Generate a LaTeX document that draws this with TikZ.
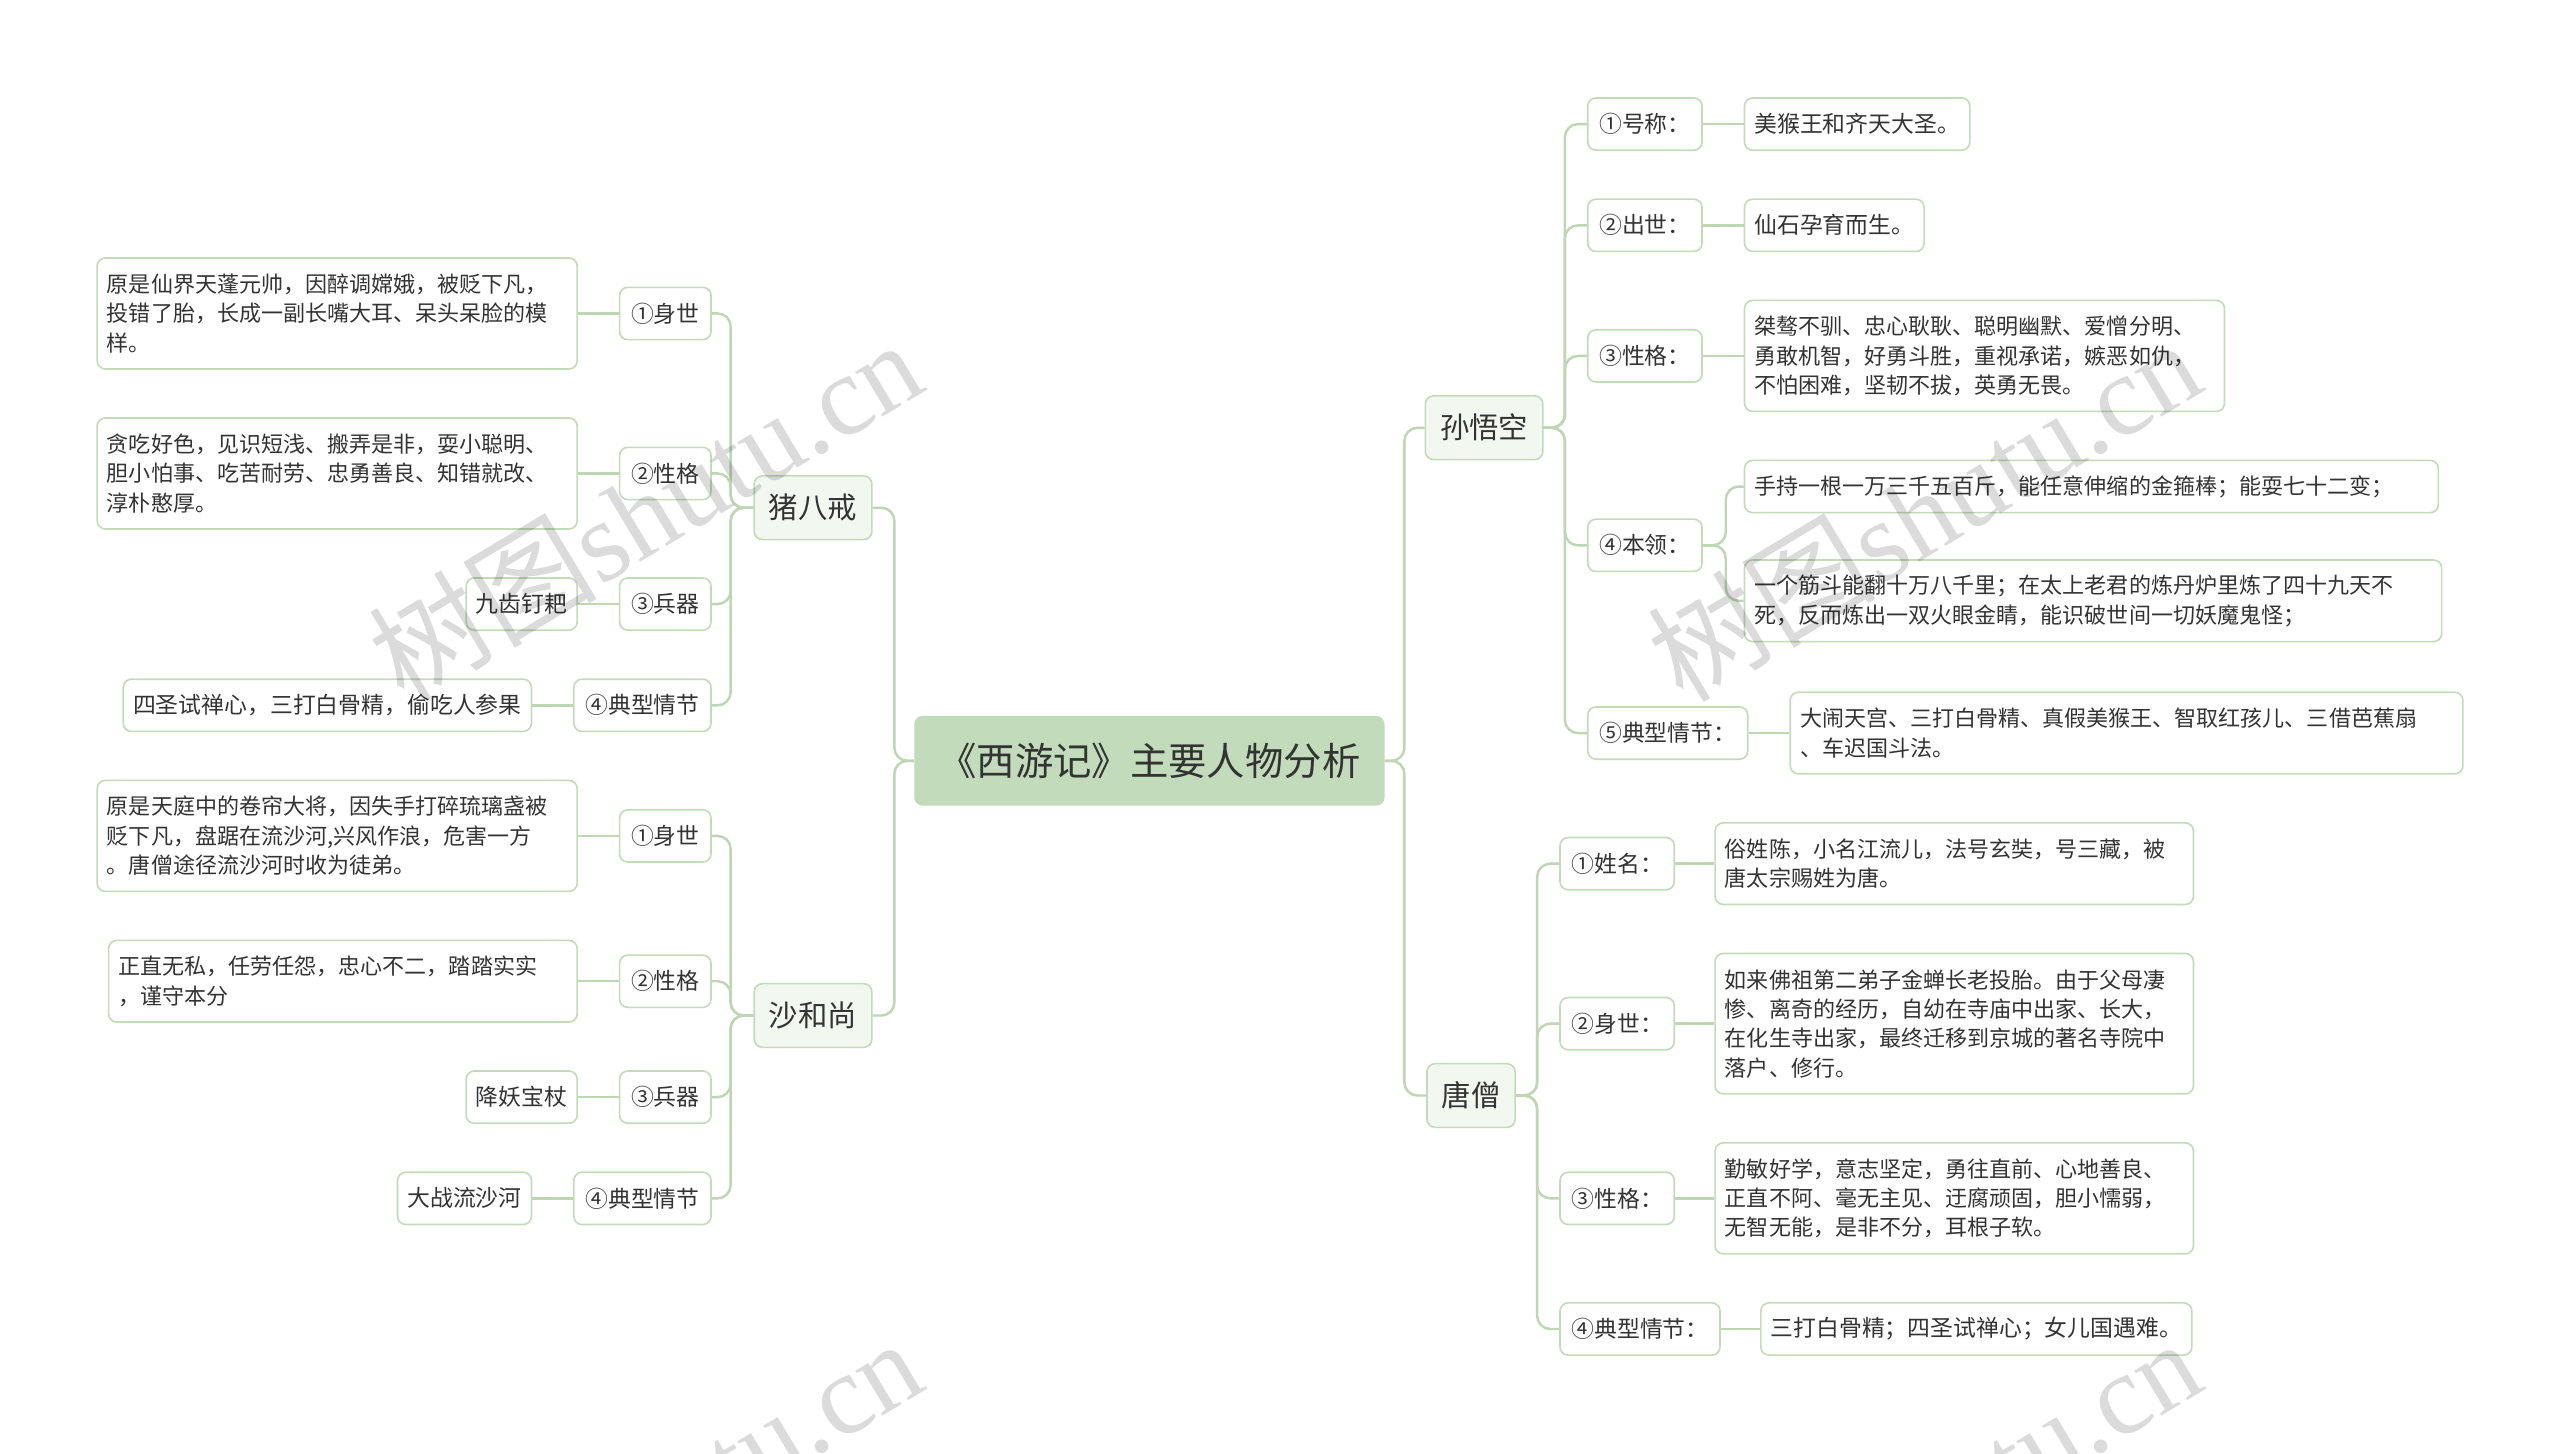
\documentclass[tikz,border=0pt]{standalone}
\usepackage{fontspec}
\setmainfont{Noto Sans CJK SC}
\newfontfamily\wmlatin{Liberation Serif}
\definecolor{lineC}{HTML}{BCD7B1}
\definecolor{rootF}{HTML}{C2DBBA}
\definecolor{mainF}{HTML}{F2F8EF}
\definecolor{borderC}{HTML}{C3DCB8}
\definecolor{txt}{HTML}{333333}
\begin{document}
\begin{tikzpicture}[x=1pt,y=-1pt,
  root/.style={fill=rootF, rounded corners=5pt, minimum width=288pt, minimum height=55pt, inner sep=0pt, font=\fontsize{23.5}{28}\selectfont, text=txt},
  lvlone/.style={fill=mainF, draw=borderC, line width=1pt, rounded corners=5pt, minimum height=39pt, inner xsep=9pt, inner ysep=0pt, font=\fontsize{18}{22}\selectfont, text=txt},
  lvltwo/.style={fill=white, draw=borderC, line width=1pt, rounded corners=5pt, minimum height=32pt, inner xsep=7pt, inner ysep=0pt, font=\fontsize{14}{18}\selectfont, text=txt},
  leaf/.style={fill=white, draw=borderC, line width=1pt, rounded corners=5pt, inner xsep=6pt, inner ysep=3pt, align=left, font=\fontsize{13.5}{18}\selectfont, text=txt},
  one/.style={minimum height=32pt, font=\fontsize{14}{18}\selectfont},
  two/.style={minimum height=50pt},
  three/.style={minimum height=68pt},
  four/.style={minimum height=86pt},
  conn/.style={draw=lineC, line width=1.5pt, rounded corners=8pt},
  wm/.style={rotate=31, text=black, opacity=0.14, font=\fontsize{70}{70}\selectfont, inner sep=0pt},
]
\useasboundingbox (0,0) rectangle (1568,890);
\fill[white] (0,0) rectangle (1568,890);

% root
\node[root] (root) at (704,466) {《西游记》主要人物分析};

% level one
\node[lvlone] (zhu) at (498,311) {猪八戒};
\node[lvlone] (sha) at (498,622) {沙和尚};
\node[lvlone] (sun) at (909,262) {孙悟空};
\node[lvlone] (tang) at (901,671) {唐僧};

% Zhu labels
\node[lvltwo, anchor=east] (zs1) at (436,192) {①身世};
\node[lvltwo, anchor=east] (zs2) at (436,290) {②性格};
\node[lvltwo, anchor=east] (zs3) at (436,370) {③兵器};
\node[lvltwo, anchor=east] (zs4) at (436,432) {④典型情节};
% Zhu leaves
\node[leaf, three, text width=282pt, anchor=east] (zl1) at (354,192) {原是仙界天蓬元帅，因醉调嫦娥，被贬下凡，\\投错了胎，长成一副长嘴大耳、呆头呆脸的模\\样。};
\node[leaf, three, text width=282pt, anchor=east] (zl2) at (354,290) {贪吃好色，见识短浅、搬弄是非，耍小聪明、\\胆小怕事、吃苦耐劳、忠勇善良、知错就改、\\淳朴憨厚。};
\node[leaf, one, anchor=east] (zl3) at (354,370) {九齿钉耙};
\node[leaf, one, anchor=east] (zl4) at (326,432) {四圣试禅心，三打白骨精，偷吃人参果};

% Sha labels
\node[lvltwo, anchor=east] (ss1) at (436,512) {①身世};
\node[lvltwo, anchor=east] (ss2) at (436,601) {②性格};
\node[lvltwo, anchor=east] (ss3) at (436,672) {③兵器};
\node[lvltwo, anchor=east] (ss4) at (436,734) {④典型情节};
% Sha leaves
\node[leaf, three, text width=282pt, anchor=east] (sl1) at (354,512) {原是天庭中的卷帘大将，因失手打碎琉璃盏被\\贬下凡，盘踞在流沙河,兴风作浪，危害一方\\。唐僧途径流沙河时收为徒弟。};
\node[leaf, two, text width=275pt, anchor=east] (sl2) at (354,601) {正直无私，任劳任怨，忠心不二，踏踏实实\\，谨守本分};
\node[leaf, one, anchor=east] (sl3) at (354,672) {降妖宝杖};
\node[leaf, one, anchor=east] (sl4) at (326,734) {大战流沙河};

% Sun labels
\node[lvltwo, anchor=west] (w1) at (972,76) {①号称：};
\node[lvltwo, anchor=west] (w2) at (972,138) {②出世：};
\node[lvltwo, anchor=west] (w3) at (972,218) {③性格：};
\node[lvltwo, anchor=west] (w4) at (972,334) {④本领：};
\node[lvltwo, anchor=west] (w5) at (972,449) {⑤典型情节：};
% Sun leaves
\node[leaf, one, anchor=west] (wl1) at (1068,76) {美猴王和齐天大圣。};
\node[leaf, one, anchor=west] (wl2) at (1068,138) {仙石孕育而生。};
\node[leaf, three, text width=282pt, anchor=west] (wl3) at (1068,218) {桀骜不驯、忠心耿耿、聪明幽默、爱憎分明、\\勇敢机智，好勇斗胜，重视承诺，嫉恶如仇，\\不怕困难，坚韧不拔，英勇无畏。};
\node[leaf, one, font=\fontsize{13.5}{18}\selectfont, text width=413pt, anchor=west] (wl4a) at (1068,298) {手持一根一万三千五百斤，能任意伸缩的金箍棒；能耍七十二变；};
\node[leaf, two, text width=415pt, anchor=west] (wl4b) at (1068,368) {一个筋斗能翻十万八千里；在太上老君的炼丹炉里炼了四十九天不\\死，反而炼出一双火眼金睛，能识破世间一切妖魔鬼怪；};
\node[leaf, two, text width=400pt, anchor=west] (wl5) at (1096,449) {大闹天宫、三打白骨精、真假美猴王、智取红孩儿、三借芭蕉扇\\、车迟国斗法。};

% Tang labels
\node[lvltwo, anchor=west] (t1) at (955,529) {①姓名：};
\node[lvltwo, anchor=west] (t2) at (955,627) {②身世：};
\node[lvltwo, anchor=west] (t3) at (955,734) {③性格：};
\node[lvltwo, anchor=west] (t4) at (955,814) {④典型情节：};
% Tang leaves
\node[leaf, two, text width=281pt, anchor=west] (tl1) at (1050,529) {俗姓陈，小名江流儿，法号玄奘，号三藏，被\\唐太宗赐姓为唐。};
\node[leaf, four, text width=281pt, anchor=west] (tl2) at (1050,627) {如来佛祖第二弟子金蝉长老投胎。由于父母凄\\惨、离奇的经历，自幼在寺庙中出家、长大，\\在化生寺出家，最终迁移到京城的著名寺院中\\落户、修行。};
\node[leaf, three, text width=281pt, anchor=west] (tl3) at (1050,734) {勤敏好学，意志坚定，勇往直前、心地善良、\\正直不阿、毫无主见、迂腐顽固，胆小懦弱，\\无智无能，是非不分，耳根子软。};
\node[leaf, one, anchor=west] (tl4) at (1078,814) {三打白骨精；四圣试禅心；女儿国遇难。};

% connectors: root -> level one
\draw[conn] (root.west) -- ++(-12,0) |- (zhu.east);
\draw[conn] (root.west) -- ++(-12,0) |- (sha.east);
\draw[conn] (root.east) -- ++(12,0) |- (sun.west);
\draw[conn] (root.east) -- ++(12,0) |- (tang.west);

% level one -> labels
\foreach \c in {zs1,zs2,zs3,zs4} \draw[conn] (zhu.west) -- ++(-14,0) |- (\c.east);
\foreach \c in {ss1,ss2,ss3,ss4} \draw[conn] (sha.west) -- ++(-14,0) |- (\c.east);
\foreach \c in {w1,w2,w3,w4,w5} \draw[conn] (sun.east) -- ++(13,0) |- (\c.west);
\foreach \c in {t1,t2,t3,t4} \draw[conn] (tang.east) -- ++(13,0) |- (\c.west);

% labels -> leaves
\draw[conn] (zs1.west) -- (zs1.west -| zl1.east);
\draw[conn] (zs2.west) -- (zs2.west -| zl2.east);
\draw[conn] (zs3.west) -- (zs3.west -| zl3.east);
\draw[conn] (zs4.west) -- (zs4.west -| zl4.east);
\draw[conn] (ss1.west) -- (ss1.west -| sl1.east);
\draw[conn] (ss2.west) -- (ss2.west -| sl2.east);
\draw[conn] (ss3.west) -- (ss3.west -| sl3.east);
\draw[conn] (ss4.west) -- (ss4.west -| sl4.east);
\draw[conn] (w1.east) -- (w1.east -| wl1.west);
\draw[conn] (w2.east) -- (w2.east -| wl2.west);
\draw[conn] (w3.east) -- (w3.east -| wl3.west);
\draw[conn] (w4.east) -- ++(14,0) |- (wl4a.west);
\draw[conn] (w4.east) -- ++(14,0) |- (wl4b.west);
\draw[conn] (w5.east) -- (w5.east -| wl5.west);
\draw[conn] (t1.east) -- (t1.east -| tl1.west);
\draw[conn] (t2.east) -- (t2.east -| tl2.west);
\draw[conn] (t3.east) -- (t3.east -| tl3.west);
\draw[conn] (t4.east) -- (t4.east -| tl4.west);

% watermarks
\begin{scope}
\clip (0,0) rectangle (1568,890);
\node[wm] (wma) at (395,312) {树图{\wmlatin shutu.cn}};
\node[wm] (wmb) at (1178,312) {树图{\wmlatin shutu.cn}};
\node[wm] (wmc) at (395,924) {树图{\wmlatin shutu.cn}};
\node[wm] (wmd) at (1178,924) {树图{\wmlatin shutu.cn}};
\end{scope}
\end{tikzpicture}
\end{document}
